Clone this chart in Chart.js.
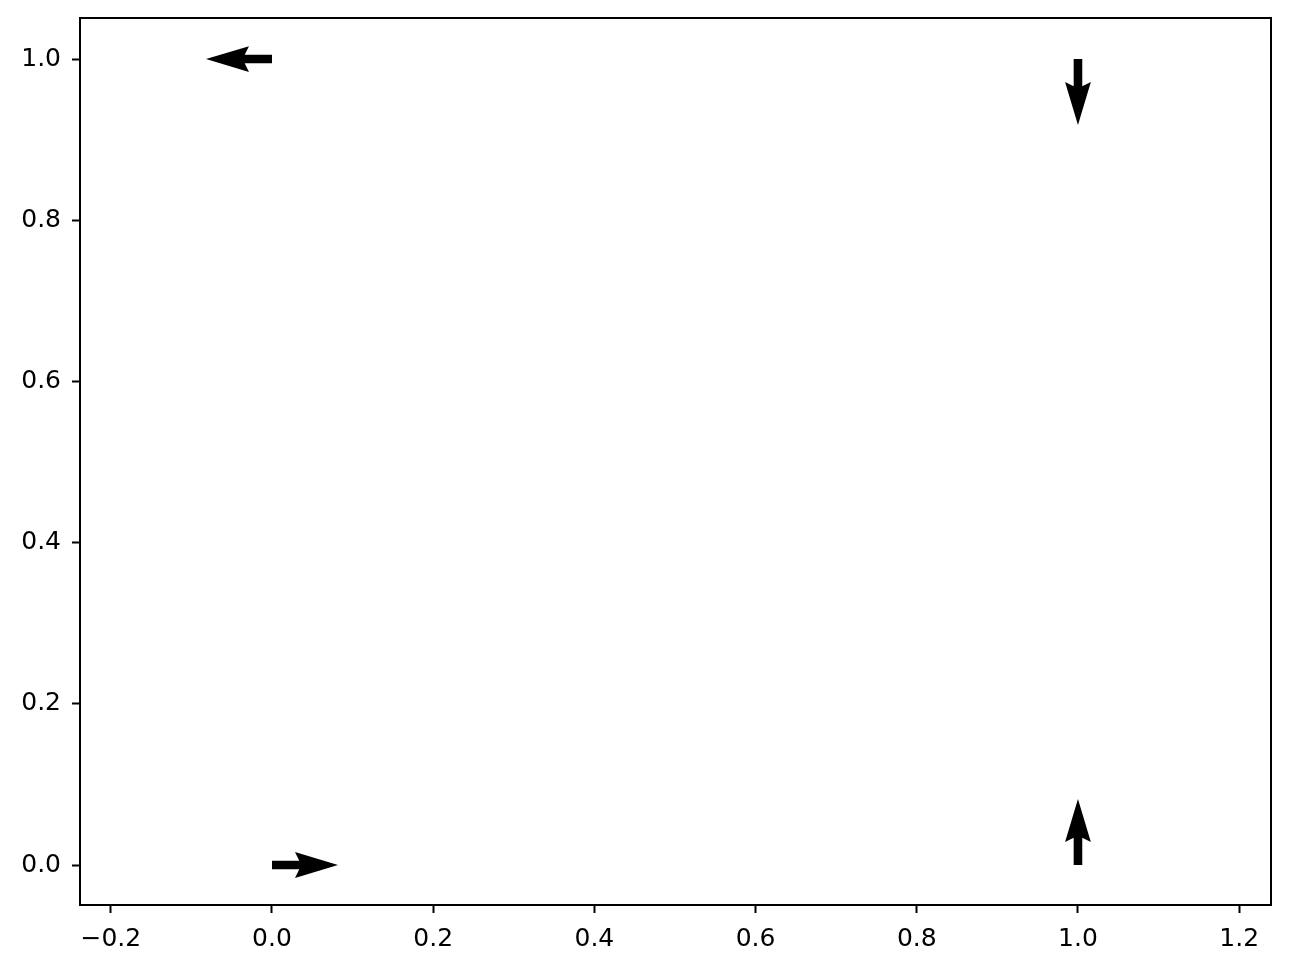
<!DOCTYPE html>
<html>
<head>
<meta charset="utf-8">
<script src="https://cdn.jsdelivr.net/npm/chart.js@4.4.1/dist/chart.umd.min.js"></script>
<style>
  html, body { margin: 0; padding: 0; background: #ffffff; }
  #wrap { width: 1289px; height: 970px; }
</style>
</head>
<body>
<div id="wrap"><canvas id="quiverChart" width="1289" height="970"></canvas></div>
<script>
// arrow positions and directions
const posX = [0, 1, 0, 1];
const posY = [0, 0, 1, 1];
const dirU = [1, 0, -1, 0];
const dirV = [0, 1, 0, -1];

// axis ticks
const xTicks = [-0.2, 0.0, 0.2, 0.4, 0.6, 0.8, 1.0, 1.2];
const yTicks = [0.0, 0.2, 0.4, 0.6, 0.8, 1.0];

function fmtTick(v) {
  let s = v.toFixed(1);
  if (s === '-0.0') s = '0.0';
  return s.replace('-', '\u2212');
}

// draws the arrows (quiver style) and the axes frame
const quiverPlugin = {
  id: 'quiver',
  afterDatasetsDraw(chart) {
    const ctx = chart.ctx;
    const xs = chart.scales.x;
    const ys = chart.scales.y;
    const len = 66;     // arrow length, px
    const w = 8.6;      // shaft width
    const hw = w * 3;   // head width
    const hl = w * 5;   // head length
    const hal = w * 4.5; // head axis length

    ctx.save();
    ctx.fillStyle = '#000000';
    chart.data.datasets[0].data.forEach(function (p) {
      const px = xs.getPixelForValue(p.x);
      const py = ys.getPixelForValue(p.y);
      const ang = Math.atan2(-p.v, p.u);
      ctx.save();
      ctx.translate(px, py);
      ctx.rotate(ang);
      ctx.beginPath();
      ctx.moveTo(0, -w / 2);
      ctx.lineTo(len - hal, -w / 2);
      ctx.lineTo(len - hl, -hw / 2);
      ctx.lineTo(len, 0);
      ctx.lineTo(len - hl, hw / 2);
      ctx.lineTo(len - hal, w / 2);
      ctx.lineTo(0, w / 2);
      ctx.closePath();
      ctx.fill();
      ctx.restore();
    });

    const a = chart.chartArea;
    ctx.strokeStyle = '#000000';
    ctx.lineWidth = 2;
    ctx.strokeRect(a.left, a.top, a.right - a.left, a.bottom - a.top);
    ctx.restore();
  }
};

const pontos = posX.map(function (x, i) {
  return { x: x, y: posY[i], u: dirU[i], v: dirV[i] };
});

new Chart(document.getElementById('quiverChart'), {
  type: 'scatter',
  data: {
    datasets: [{
      label: 'quiver',
      data: pontos,
      pointRadius: 0,
      pointHoverRadius: 0
    }]
  },
  options: {
    responsive: false,
    animation: false,
    layout: {
      padding: { top: 18, right: 18, left: 0, bottom: 0 }
    },
    plugins: {
      legend: { display: false },
      tooltip: { enabled: false }
    },
    scales: {
      x: {
        type: 'linear',
        min: -0.2382,
        max: 1.2395,
        afterBuildTicks: function (scale) {
          scale.ticks = xTicks.map(function (v) { return { value: v }; });
        },
        afterFit: function (scale) {
          scale.height = 65;
          scale.paddingLeft = 0;
          scale.paddingRight = 0;
        },
        border: { display: false },
        grid: {
          drawOnChartArea: false,
          drawTicks: true,
          tickLength: 8,
          tickWidth: 2,
          tickColor: '#000000'
        },
        ticks: {
          color: '#000000',
          padding: 11,
          maxRotation: 0,
          autoSkip: false,
          font: { family: 'DejaVu Sans', size: 25 },
          callback: function (v) { return fmtTick(v); }
        }
      },
      y: {
        type: 'linear',
        min: -0.0496,
        max: 1.0509,
        afterBuildTicks: function (scale) {
          scale.ticks = yTicks.map(function (v) { return { value: v }; });
        },
        afterFit: function (scale) {
          scale.width = 80;
          scale.paddingTop = 0;
          scale.paddingBottom = 0;
        },
        border: { display: false },
        grid: {
          drawOnChartArea: false,
          drawTicks: true,
          tickLength: 8,
          tickWidth: 2,
          tickColor: '#000000'
        },
        ticks: {
          color: '#000000',
          padding: 11,
          autoSkip: false,
          font: { family: 'DejaVu Sans', size: 25 },
          callback: function (v) { return fmtTick(v); }
        }
      }
    }
  },
  plugins: [quiverPlugin]
});
</script>
</body>
</html>
